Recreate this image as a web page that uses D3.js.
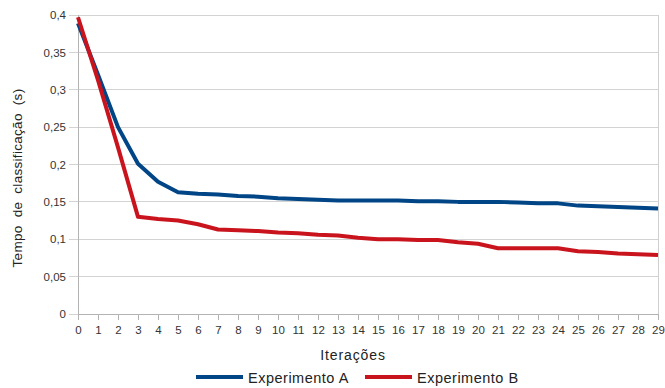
<!DOCTYPE html>
<html><head><meta charset="utf-8">
<script src="https://cdn.jsdelivr.net/npm/d3@7"></script>
<style>body{margin:0;background:#fff;}svg{display:block;font-family:"Liberation Sans",Arial,sans-serif;}</style>
</head><body><svg id="c" width="665" height="388"></svg>
<script>
const iterations = d3.range(0, 30);
const seriesNames = ["Experimento A", "Experimento B"];
const experimentoA = [0.389,0.32,0.25,0.201,0.177,0.163,0.161,0.160,0.158,0.157,0.155,0.154,0.153,0.152,0.152,0.152,0.152,0.151,0.151,0.150,0.150,0.150,0.149,0.148,0.148,0.145,0.144,0.143,0.142,0.141];
const experimentoB = [0.397,0.313,0.223,0.130,0.127,0.125,0.120,0.113,0.112,0.111,0.109,0.108,0.106,0.105,0.102,0.100,0.100,0.099,0.099,0.096,0.094,0.088,0.088,0.088,0.088,0.084,0.083,0.081,0.080,0.079];
const yTicks = [0,0.05,0.1,0.15,0.2,0.25,0.3,0.35,0.4];
const yTickLabels = ["0","0,05","0,1","0,15","0,2","0,25","0,3","0,35","0,4"];
const colors = ["#004586","#c9141e"];

const svg = d3.select("#c");
const x = d3.scaleLinear().domain([0,29]).range([78,658]);
const y = d3.scaleLinear().domain([0,0.4]).range([314,15]);

// gridlines
svg.append("g").selectAll("line").data(yTicks).join("line")
  .attr("x1",69).attr("x2",658).attr("y1",d=>y(d)).attr("y2",d=>y(d))
  .attr("stroke","#d3d3d3").attr("stroke-width",1).attr("shape-rendering","crispEdges");
// right border
svg.append("line").attr("x1",658.5).attr("x2",658.5).attr("y1",y(0.4)).attr("y2",y(0))
  .attr("stroke","#cfcfcf").attr("stroke-width",1);

// y axis
const yAxis = d3.axisLeft(y).tickValues(yTicks).tickFormat((d,i)=>yTickLabels[i]).tickSize(9).tickPadding(3);
const gy = svg.append("g").attr("transform","translate(78,0)").call(yAxis);
gy.select(".domain").attr("stroke","#b3b3b3").attr("d","M0.5,"+y(0.4)+"V"+(y(0)+0.5));
gy.selectAll(".tick line").remove();
gy.selectAll("text").attr("fill","#333").attr("font-size","11.5px").attr("x",-12);

// x axis
const xAxis = d3.axisBottom(x).tickValues(iterations).tickFormat(d3.format("d")).tickSize(6).tickPadding(6);
const gx = svg.append("g").attr("transform","translate(0,314)").call(xAxis);
gx.select(".domain").attr("stroke","#b3b3b3").attr("d","M78,0.5H658.5");
gx.selectAll(".tick line").attr("stroke","#b3b3b3");
gx.selectAll("text").attr("fill","#333").attr("font-size","11.5px");

// lines
const line = d3.line().x((d,i)=>x(iterations[i])).y(d=>y(d));
[experimentoA, experimentoB].forEach((s,k)=>{
  svg.append("path").datum(s).attr("d",line).attr("fill","none")
    .attr("stroke",colors[k]).attr("stroke-width",4).attr("stroke-linejoin","round");
});

// axis titles
svg.append("text").attr("x",353).attr("y",360).attr("text-anchor","middle")
  .attr("font-size","14px").attr("letter-spacing","0.9px").attr("fill","#222").text("Iterações");
svg.append("text").attr("transform","translate(22,178) rotate(-90)").attr("text-anchor","middle")
  .attr("font-size","13.5px").attr("fill","#222").attr("letter-spacing","0.3px").attr("word-spacing","4px").text("Tempo de classificação (s)");

// legend
const legX = [196, 365];
seriesNames.forEach((n,k)=>{
  svg.append("line").attr("x1",legX[k]).attr("x2",legX[k]+47).attr("y1",377).attr("y2",377)
    .attr("stroke",colors[k]).attr("stroke-width",4);
  svg.append("text").attr("x",legX[k]+52).attr("y",383).attr("font-size","14.5px")
    .attr("letter-spacing","0.5px").attr("fill","#222").text(n);
});
</script></body></html>
